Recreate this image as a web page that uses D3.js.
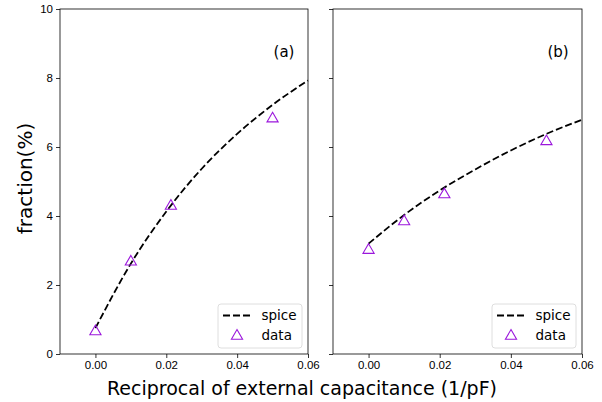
<!DOCTYPE html>
<html>
<head>
<meta charset="utf-8">
<script src="https://cdn.jsdelivr.net/npm/d3@7"></script>
<style>
  body { margin: 0; background: #fff; }
  svg { display: block; font-family: "DejaVu Sans", sans-serif; }
  .tick text { font-size: 11.5px; fill: #000; }
  .tick line { stroke: #000; stroke-width: 0.8; }
  .domain { display: none; }
</style>
</head>
<body>
<svg id="chart" width="602" height="402"></svg>
<script>
const spiceX = [0, 0.01, 0.02, 0.03, 0.04, 0.05, 0.06];
const spiceA = [0.75, 2.62, 4.13, 5.37, 6.38, 7.22, 7.93];
const spiceB = [3.2, 4.03, 4.74, 5.35, 5.9, 6.38, 6.79];

const dataX = [0, 0.01, 0.0213, 0.05];
const dataA = [0.68, 2.70, 4.32, 6.85];
const dataB = [3.04, 3.87, 4.65, 6.19];

const xTicks = [0, 0.02, 0.04, 0.06];
const yTicks = [0, 2, 4, 6, 8, 10];
const panelLabels = ['(a)', '(b)'];

const purple = '#9b17dc';

let svg = d3.select('#chart');

const plotTop = 9, plotBottom = 354;
const panels = [
  { left: 60, right: 308, spice: spiceA, data: dataA, label: panelLabels[0], showY: true },
  { left: 333, right: 582, spice: spiceB, data: dataB, label: panelLabels[1], showY: false }
];

let y = d3.scaleLinear().domain([0, 10]).range([plotBottom, plotTop]);

const tri = d3.symbol().type(d3.symbolTriangle).size(54);

panels.forEach(p => {
  let x = d3.scaleLinear().domain([-0.01, 0.06]).range([p.left, p.right]);
  let g = svg.append('g');

  g.append('g')
    .attr('transform', 'translate(0,' + plotBottom + ')')
    .call(d3.axisBottom(x).tickValues(xTicks).tickSize(4).tickPadding(3)
      .tickFormat(d3.format('.2f')));

  g.append('g')
    .attr('transform', 'translate(' + p.left + ',0)')
    .call(d3.axisLeft(y).tickValues(yTicks).tickSize(4).tickPadding(3)
      .tickFormat(p.showY ? d3.format('d') : ''));

  // frame
  g.append('rect')
    .attr('x', p.left).attr('y', plotTop)
    .attr('width', p.right - p.left).attr('height', plotBottom - plotTop)
    .attr('fill', 'none').attr('stroke', '#000').attr('stroke-width', 0.8);

  let line = d3.line()
    .x((d, i) => x(spiceX[i]))
    .y(d => y(d))
    .curve(d3.curveMonotoneX);

  g.append('path')
    .datum(p.spice)
    .attr('d', line)
    .attr('fill', 'none')
    .attr('stroke', '#000')
    .attr('stroke-width', 1.8)
    .attr('stroke-dasharray', '7,3');

  g.selectAll('.pt')
    .data(p.data)
    .join('path')
    .attr('d', tri)
    .attr('transform', (d, i) => 'translate(' + x(dataX[i]) + ',' + (y(d) + 1) + ')')
    .attr('fill', 'none')
    .attr('stroke', purple)
    .attr('stroke-width', 1.1);

  g.append('text')
    .attr('x', x(0.05) + 1)
    .attr('y', y(8.6))
    .attr('font-size', 15)
    .text(p.label);

  // legend
  let lg = g.append('g').attr('transform', 'translate(' + (p.right - 90) + ',' + 304 + ')');
  lg.append('rect')
    .attr('width', 84).attr('height', 44).attr('rx', 3)
    .attr('fill', '#fff').attr('fill-opacity', 0.8)
    .attr('stroke', '#d6d6d6').attr('stroke-width', 0.8);
  lg.append('line')
    .attr('x1', 5).attr('x2', 32).attr('y1', 11.5).attr('y2', 11.5)
    .attr('stroke', '#000').attr('stroke-width', 1.8)
    .attr('stroke-dasharray', '7,3');
  lg.append('path')
    .attr('d', tri)
    .attr('transform', 'translate(19,32)')
    .attr('fill', 'none').attr('stroke', purple).attr('stroke-width', 1.1);
  lg.append('text').attr('x', 43.5).attr('y', 16).attr('font-size', 13.5).text('spice');
  lg.append('text').attr('x', 43.5).attr('y', 36).attr('font-size', 13.5).text('data');
});

svg.append('text')
  .attr('x', 302).attr('y', 395)
  .attr('text-anchor', 'middle')
  .attr('font-size', 19)
  .text('Reciprocal of external capacitance (1/pF)');

svg.append('text')
  .attr('transform', 'translate(32,' + ((plotTop + plotBottom) / 2 - 3) + ') rotate(-90)')
  .attr('text-anchor', 'middle')
  .attr('font-size', 20)
  .text('fraction(%)');
</script>
</body>
</html>
